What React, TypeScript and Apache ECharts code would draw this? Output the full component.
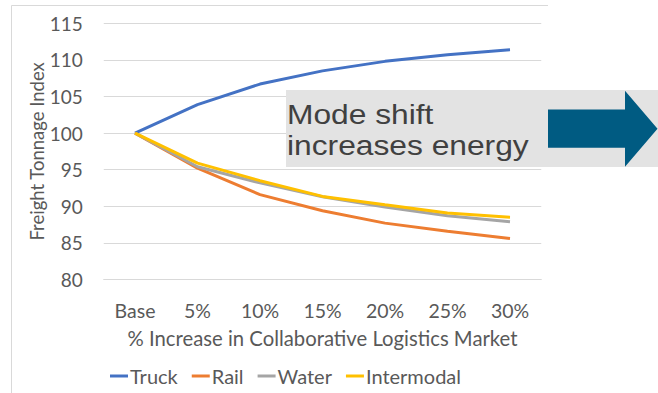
import React, { useEffect, useRef } from "react";
import * as echarts from "echarts";

// Freight tonnage index by mode as collaborative logistics grows
const categories = ["Base", "5%", "10%", "15%", "20%", "25%", "30%"];
const truck = [100, 103.9, 106.7, 108.5, 109.8, 110.7, 111.4];
const rail = [100, 95.2, 91.6, 89.4, 87.7, 86.6, 85.6];
const water = [100, 95.4, 93.2, 91.3, 89.9, 88.7, 87.9];
const intermodal = [100, 95.9, 93.5, 91.35, 90.2, 89.1, 88.5];
const seriesNames = ["Truck", "Rail", "Water", "Intermodal"];
const seriesColors = ["#4472C4", "#ED7D31", "#A5A5A5", "#FFC000"];
const calloutLines = ["Mode shift", "increases energy"];

const FONT = "Lato, 'Open Sans', sans-serif";
const LABEL_COLOR = "#595959";
const GRID_COLOR = "#D9D9D9";

export default function App() {
  const ref = useRef<HTMLDivElement>(null);

  useEffect(() => {
    document.body.style.margin = "0";
    if (!ref.current) return;
    const chart = echarts.init(ref.current, undefined, { renderer: "svg" });
    const values = [truck, rail, water, intermodal];

    chart.setOption({
      animation: false,
      backgroundColor: "#FFFFFF",
      grid: { left: 103.75, right: 116.75, top: 23.3, bottom: 113.5 },
      xAxis: {
        type: "category",
        data: categories,
        boundaryGap: true,
        name: "% Increase in Collaborative Logistics Market",
        nameLocation: "middle",
        nameGap: 48,
        nameMoveOverlap: false,
        nameTextStyle: { fontFamily: FONT, fontSize: 20.3, color: LABEL_COLOR },
        axisTick: { show: false },
        axisLine: { lineStyle: { color: GRID_COLOR, width: 1 } },
        axisLabel: { fontFamily: FONT, fontSize: 19.5, color: LABEL_COLOR, margin: 21 },
      },
      yAxis: {
        type: "value",
        min: 80,
        max: 115,
        interval: 5,
        name: "Freight Tonnage Index",
        nameLocation: "middle",
        nameGap: 57,
        nameMoveOverlap: false,
        nameTextStyle: { fontFamily: FONT, fontSize: 18.5, color: LABEL_COLOR },
        axisLine: { show: false },
        axisTick: { show: false },
        axisLabel: { fontFamily: FONT, fontSize: 19, color: LABEL_COLOR, margin: 21 },
        splitLine: { lineStyle: { color: GRID_COLOR, width: 1 } },
      },
      legend: {
        left: 105,
        top: 361,
        icon: "rect",
        itemWidth: 18,
        itemHeight: 3,
        itemGap: 14,
        textStyle: { fontFamily: FONT, fontSize: 20, color: LABEL_COLOR, padding: [0, 0, 0, -3] },
        data: seriesNames,
      },
      series: seriesNames.map((name, i) => ({
        name,
        type: "line",
        data: values[i],
        symbol: "none",
        lineStyle: { width: 3, color: seriesColors[i] },
        itemStyle: { color: seriesColors[i] },
        z: 2 + (i === 3 ? 1 : 0),
      })),
      graphic: [
        // chart frame (top and left edges)
        { type: "line", shape: { x1: 11.5, y1: 5.5, x2: 548, y2: 5.5 }, style: { stroke: "#D9D9D9", lineWidth: 1 }, z: 1 },
        { type: "line", shape: { x1: 11.5, y1: 5.5, x2: 11.5, y2: 393 }, style: { stroke: "#D9D9D9", lineWidth: 1 }, z: 1 },
        // callout box
        { type: "rect", shape: { x: 286, y: 90, width: 372, height: 77 }, style: { fill: "#E3E3E3" }, z: 10 },
        {
          type: "text",
          x: 287,
          y: 114.3,
          scaleX: 1.155,
          z: 11,
          style: {
            text: calloutLines[0],
            x: 0,
            y: 0,
            font: "27.5px 'Liberation Sans', Arial, sans-serif",
            fill: "#404040",
            textAlign: "left",
            textVerticalAlign: "middle",
            verticalAlign: "middle",
          },
        },
        {
          type: "text",
          x: 287,
          y: 145,
          scaleX: 1.155,
          z: 11,
          style: {
            text: calloutLines[1],
            x: 0,
            y: 0,
            font: "27.5px 'Liberation Sans', Arial, sans-serif",
            fill: "#404040",
            textAlign: "left",
            textVerticalAlign: "middle",
            verticalAlign: "middle",
          },
        },
        // arrow
        {
          type: "polygon",
          z: 11,
          shape: {
            points: [
              [548, 109.5],
              [625, 109.5],
              [625, 90.7],
              [657.5, 128.7],
              [625, 166.7],
              [625, 147.7],
              [548, 147.7],
            ],
          },
          style: { fill: "#005B82" },
        },
      ],
    });

    return () => chart.dispose();
  }, []);

  return <div ref={ref} style={{ width: 658, height: 393 }} />;
}
